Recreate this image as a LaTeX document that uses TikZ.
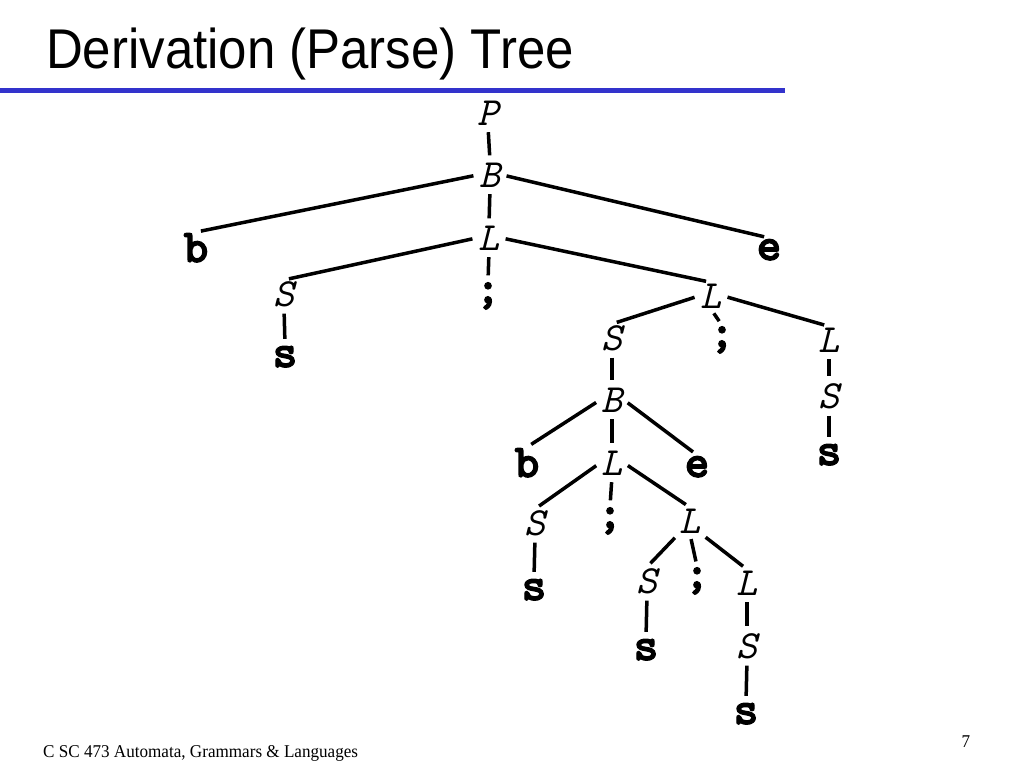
\documentclass[tikz,border=0pt]{standalone}
\usepackage{fontspec}
\setmainfont{Liberation Serif}
\newfontfamily\titlefont[FakeStretch=0.91]{Liberation Sans}
\newfontfamily\footfont[FakeStretch=0.95]{Liberation Serif}
\newfontfamily\termfont[FakeBold=2.5]{lmmonolt10-bold.otf}
\definecolor{rulecol}{HTML}{3333CC}
\begin{document}
\begin{tikzpicture}[x=1pt,y=-1pt,
  nt/.style={font=\fontsize{40}{40}\selectfont\ttfamily\itshape, inner sep=1pt, anchor=base},
  tm/.style={font=\fontsize{47}{47}\selectfont\termfont, inner sep=1pt, anchor=base},
  branch/.style={line width=3.5pt, shorten >=5pt, shorten <=5pt},
  vbranch/.style={line width=3.5pt, shorten >=6pt, shorten <=6pt}]
\useasboundingbox (0,0) rectangle (1024,768);
\node[anchor=base west, inner sep=0pt, font=\fontsize{56}{60}\selectfont\titlefont] (title) at (46,68) {Derivation (Parse) Tree};
\draw[rulecol, line width=5pt] (0,90) -- (785,90) coordinate (ruleend);
\node[anchor=base west, inner sep=0pt, font=\fontsize{18}{20}\selectfont\footfont] (foot) at (43,757) {C SC 473 Automata, Grammars \& Languages};
\node[anchor=base, inner sep=0pt, font=\fontsize{18}{20}\selectfont\footfont] (page) at (966,747) {7};

\node[nt] (P) at (488,125) {P};
\node[nt] (B) at (490,187) {B};
\node[nt] (L1) at (489,250) {L};
\node[tm] (b) at (196,262) {b};
\node[tm] (e) at (769,260) {e};
\node[nt] (S1) at (284,306) {S};
\node[tm] (sc1) at (488,303) {;};
\node[tm] (s1) at (285,367) {s};
\node[nt] (L2) at (711,308) {L};
\node[nt] (S2) at (612,350) {S};
\node[tm] (sc2) at (722,347) {;};
\node[nt] (L3) at (829,352) {L};
\node[nt] (B2) at (612,412) {B};
\node[nt] (S3) at (829,408) {S};
\node[tm] (s3) at (829,465) {s};
\node[tm] (b2) at (527,477) {b};
\node[nt] (L4) at (612,475) {L};
\node[tm] (e2) at (697,477) {e};
\node[nt] (S4) at (535,535) {S};
\node[tm] (sc3) at (610,528) {;};
\node[nt] (L5) at (690,533) {L};
\node[tm] (s4) at (534,600) {s};
\node[nt] (S5) at (647,593) {S};
\node[tm] (sc4) at (697,588) {;};
\node[nt] (L6) at (747,595) {L};
\node[tm] (s5) at (646,660) {s};
\node[nt] (S6) at (747,658) {S};
\node[tm] (s6) at (746,724) {s};

\draw[vbranch] (P.south) -- (B.north);
\draw[branch] (B.west) -- (b.north);
\draw[vbranch] (B.south) -- (L1.north);
\draw[branch] (B.east) -- (e.north);
\draw[branch] (L1.west) -- (S1.north);
\draw[vbranch] (L1.south) -- (sc1.north);
\draw[branch] (L1.east) -- (L2.north);
\draw[vbranch] (S1.south) -- (s1.north);
\draw[branch] (L2.west) -- (S2.north);
\draw[branch] (L2.south) -- (sc2.north);
\draw[branch] (L2.east) -- (L3.north);
\draw[vbranch] (S2.south) -- (B2.north);
\draw[vbranch] (L3.south) -- (S3.north);
\draw[vbranch] (S3.south) -- (s3.north);
\draw[branch] (B2.west) -- (b2.north);
\draw[vbranch] (B2.south) -- (L4.north);
\draw[branch] (B2.east) -- (e2.north);
\draw[branch] (L4.west) -- (S4.north);
\draw[vbranch] (L4.south) -- (sc3.north);
\draw[branch] (L4.east) -- (L5.north);
\draw[vbranch] (S4.south) -- (s4.north);
\draw[branch] (L5.south west) -- (S5.north);
\draw[branch] (L5.south) -- (sc4.north);
\draw[branch] (L5.south east) -- (L6.north);
\draw[vbranch] (S5.south) -- (s5.north);
\draw[vbranch] (L6.south) -- (S6.north);
\draw[vbranch] (S6.south) -- (s6.north);
\end{tikzpicture}
\end{document}
